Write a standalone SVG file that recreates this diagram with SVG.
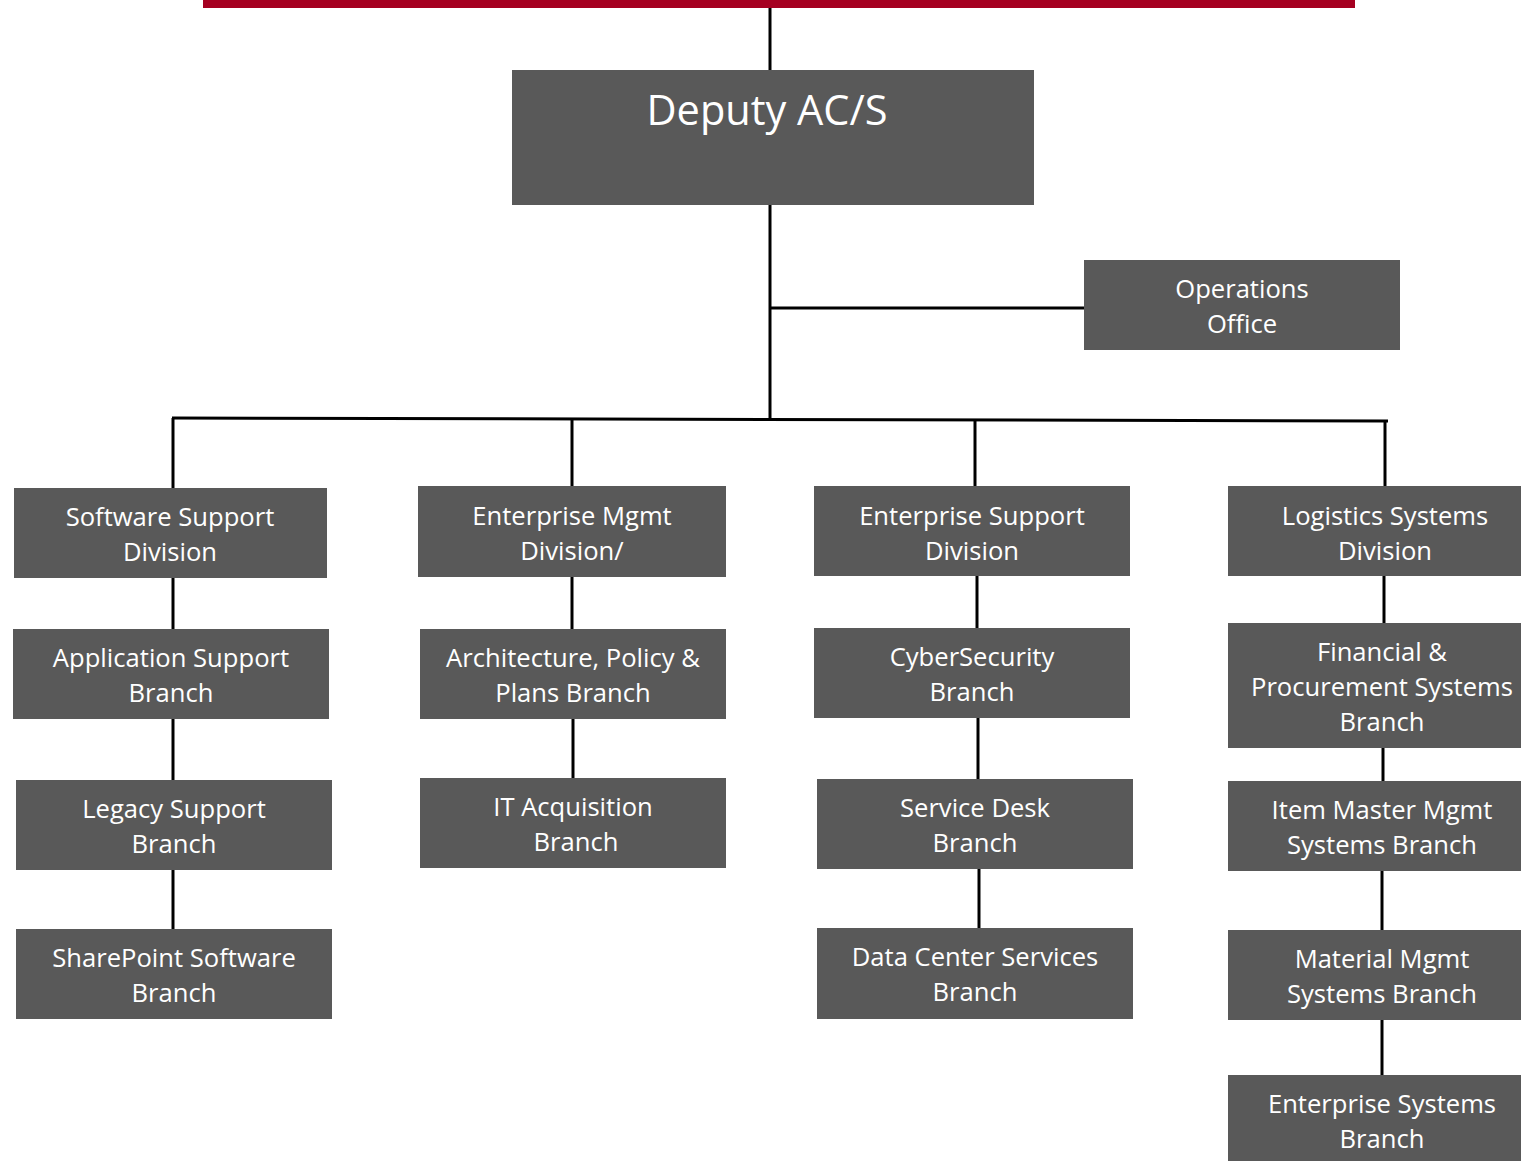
<svg xmlns="http://www.w3.org/2000/svg" width="1521" height="1161" viewBox="0 0 1521 1161">
<style>
.box{fill:#595959}
.t{font-family:"Open Sans","Noto Sans","Liberation Sans",sans-serif;font-size:25.6px;fill:#ffffff;text-anchor:middle}
.big{font-size:41.5px}
.c{stroke:#000000;stroke-width:3;fill:none}
</style>
<rect x="0" y="0" width="1521" height="1161" fill="#ffffff"/>
<rect x="203" y="0" width="1152" height="8" fill="#A50021"/>
<g id="connectors">
<line class="c" x1="770" y1="8" x2="770" y2="70"/>
<line class="c" x1="770" y1="205" x2="770" y2="421"/>
<line class="c" x1="770" y1="308" x2="1084" y2="308"/>
<line class="c" x1="172" y1="418" x2="1388" y2="421"/>
<line class="c" x1="173" y1="418" x2="173" y2="488"/>
<line class="c" x1="173" y1="578" x2="173" y2="629"/>
<line class="c" x1="173" y1="719" x2="173" y2="780"/>
<line class="c" x1="173" y1="870" x2="173" y2="929"/>
<line class="c" x1="572" y1="420" x2="572" y2="486"/>
<line class="c" x1="572" y1="577" x2="572" y2="629"/>
<line class="c" x1="573" y1="719" x2="573" y2="778"/>
<line class="c" x1="975" y1="420" x2="975" y2="486"/>
<line class="c" x1="977" y1="576" x2="977" y2="628"/>
<line class="c" x1="978" y1="718" x2="978" y2="779"/>
<line class="c" x1="979" y1="869" x2="979" y2="928"/>
<line class="c" x1="1385" y1="420" x2="1385" y2="486"/>
<line class="c" x1="1384" y1="576" x2="1384" y2="623"/>
<line class="c" x1="1383" y1="748" x2="1383" y2="781"/>
<line class="c" x1="1382" y1="871" x2="1382" y2="930"/>
<line class="c" x1="1382" y1="1020" x2="1382" y2="1075"/>
</g>
<g id="deputy">
<rect class="box" x="512" y="70" width="522" height="135"/>
<text class="t big" x="767" y="125">Deputy AC/S</text>
</g>
<g id="operations">
<rect class="box" x="1084" y="260" width="316" height="90"/>
<text class="t" x="1242" y="298">Operations</text>
<text class="t" x="1242" y="333">Office</text>
</g>
<g id="software-support">
<rect class="box" x="14" y="488" width="313" height="90"/>
<text class="t" x="170" y="526">Software Support</text>
<text class="t" x="170" y="561">Division</text>
</g>
<g id="application-support">
<rect class="box" x="13" y="629" width="316" height="90"/>
<text class="t" x="171" y="667">Application Support</text>
<text class="t" x="171" y="702">Branch</text>
</g>
<g id="legacy-support">
<rect class="box" x="16" y="780" width="316" height="90"/>
<text class="t" x="174" y="818">Legacy Support</text>
<text class="t" x="174" y="853">Branch</text>
</g>
<g id="sharepoint">
<rect class="box" x="16" y="929" width="316" height="90"/>
<text class="t" x="174" y="967">SharePoint Software</text>
<text class="t" x="174" y="1002">Branch</text>
</g>
<g id="enterprise-mgmt">
<rect class="box" x="418" y="486" width="308" height="91"/>
<text class="t" x="572" y="525">Enterprise Mgmt</text>
<text class="t" x="572" y="560">Division/</text>
</g>
<g id="architecture">
<rect class="box" x="420" y="629" width="306" height="90"/>
<text class="t" x="573" y="667">Architecture, Policy &amp;</text>
<text class="t" x="573" y="702">Plans Branch</text>
</g>
<g id="it-acquisition">
<rect class="box" x="420" y="778" width="306" height="90"/>
<text class="t" x="573" y="816">IT Acquisition</text>
<text class="t" x="576" y="851">Branch</text>
</g>
<g id="enterprise-support">
<rect class="box" x="814" y="486" width="316" height="90"/>
<text class="t" x="972" y="525">Enterprise Support</text>
<text class="t" x="972" y="560">Division</text>
</g>
<g id="cybersecurity">
<rect class="box" x="814" y="628" width="316" height="90"/>
<text class="t" x="972" y="666">CyberSecurity</text>
<text class="t" x="972" y="701">Branch</text>
</g>
<g id="service-desk">
<rect class="box" x="817" y="779" width="316" height="90"/>
<text class="t" x="975" y="817">Service Desk</text>
<text class="t" x="975" y="852">Branch</text>
</g>
<g id="data-center">
<rect class="box" x="817" y="928" width="316" height="91"/>
<text class="t" x="975" y="966">Data Center Services</text>
<text class="t" x="975" y="1001">Branch</text>
</g>
<g id="logistics-systems">
<rect class="box" x="1228" y="486" width="312" height="90"/>
<text class="t" x="1385" y="525">Logistics Systems</text>
<text class="t" x="1385" y="560">Division</text>
</g>
<g id="financial">
<rect class="box" x="1228" y="623" width="310" height="125"/>
<text class="t" x="1382" y="661">Financial &amp;</text>
<text class="t" x="1382" y="696">Procurement Systems</text>
<text class="t" x="1382" y="731">Branch</text>
</g>
<g id="item-master">
<rect class="box" x="1228" y="781" width="310" height="90"/>
<text class="t" x="1382" y="819">Item Master Mgmt</text>
<text class="t" x="1382" y="854">Systems Branch</text>
</g>
<g id="material-mgmt">
<rect class="box" x="1228" y="930" width="310" height="90"/>
<text class="t" x="1382" y="968">Material Mgmt</text>
<text class="t" x="1382" y="1003">Systems Branch</text>
</g>
<g id="enterprise-systems">
<rect class="box" x="1228" y="1075" width="310" height="90"/>
<text class="t" x="1382" y="1113">Enterprise Systems</text>
<text class="t" x="1382" y="1148">Branch</text>
</g>
</svg>
